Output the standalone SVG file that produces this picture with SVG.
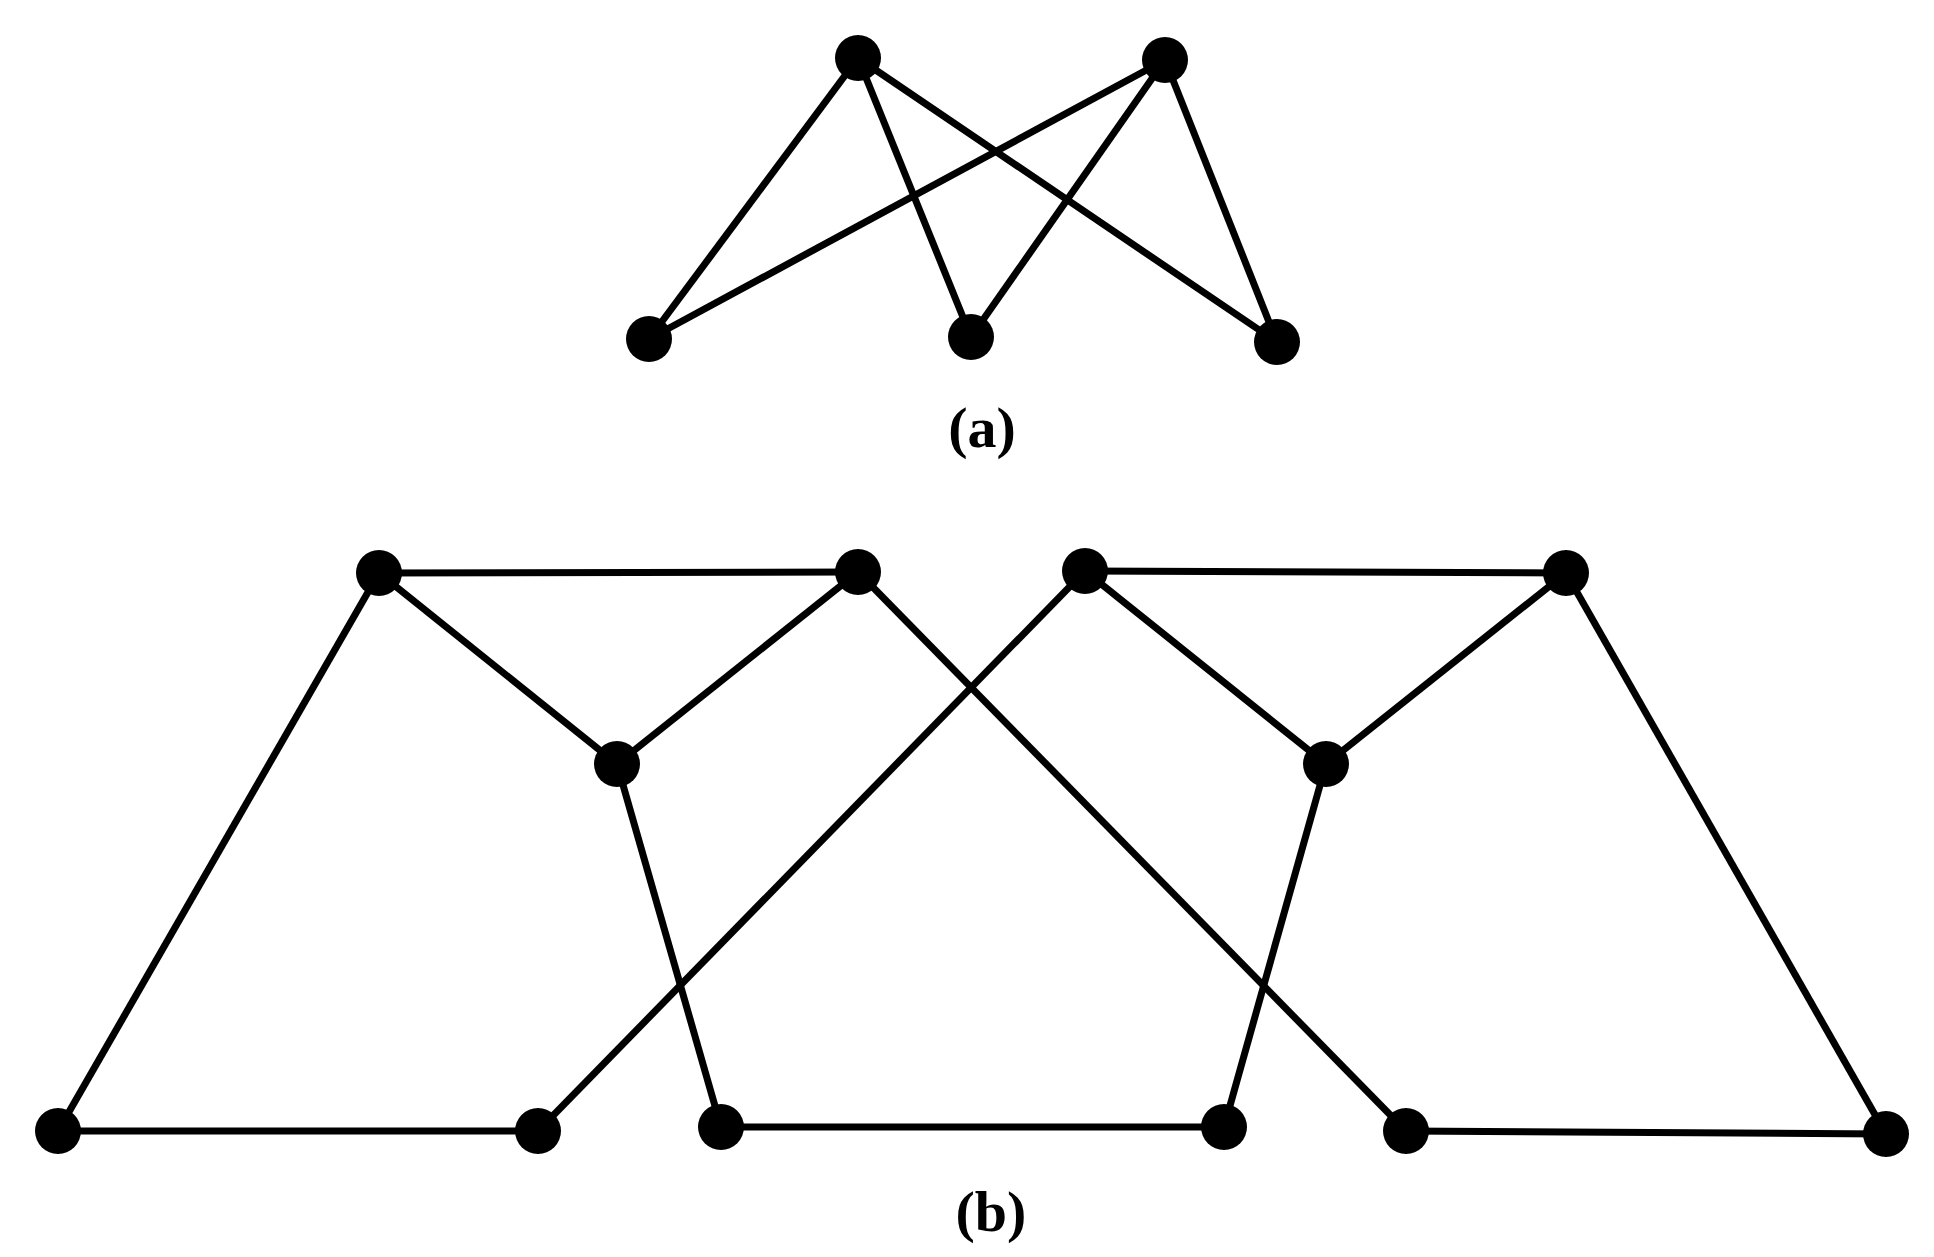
<svg xmlns="http://www.w3.org/2000/svg" width="1934" height="1257" viewBox="0 0 1934 1257">
<style>
.e{stroke:#000;stroke-width:7;fill:none}
.n{fill:#000}
.t{font-family:"Liberation Serif",serif;font-weight:bold;font-size:58px;text-anchor:middle}
</style>
<rect width="1934" height="1257" fill="#fff"/>
<g id="connectors" class="e">
<line x1="858" y1="58" x2="649" y2="339"/>
<line x1="858" y1="58" x2="971" y2="337"/>
<line x1="858" y1="58" x2="1277" y2="342"/>
<line x1="1165" y1="60" x2="649" y2="339"/>
<line x1="1165" y1="60" x2="971" y2="337"/>
<line x1="1165" y1="60" x2="1277" y2="342"/>
<line x1="379" y1="573" x2="858" y2="572"/>
<line x1="379" y1="573" x2="58" y2="1131"/>
<line x1="379" y1="573" x2="617" y2="764"/>
<line x1="858" y1="572" x2="617" y2="764"/>
<line x1="858" y1="572" x2="1406" y2="1131"/>
<line x1="1085" y1="571" x2="1566" y2="573"/>
<line x1="1085" y1="571" x2="538" y2="1131"/>
<line x1="1085" y1="571" x2="1326" y2="764"/>
<line x1="1566" y1="573" x2="1326" y2="764"/>
<line x1="1566" y1="573" x2="1886" y2="1134"/>
<line x1="617" y1="764" x2="721" y2="1127"/>
<line x1="1326" y1="764" x2="1224" y2="1127"/>
<line x1="58" y1="1131" x2="538" y2="1131"/>
<line x1="721" y1="1127" x2="1224" y2="1127"/>
<line x1="1406" y1="1131" x2="1886" y2="1134"/>
</g>
<g id="a-t1"><circle class="n" cx="858" cy="58" r="23"/></g>
<g id="a-t2"><circle class="n" cx="1165" cy="60" r="23"/></g>
<g id="a-b1"><circle class="n" cx="649" cy="339" r="23"/></g>
<g id="a-b2"><circle class="n" cx="971" cy="337" r="23"/></g>
<g id="a-b3"><circle class="n" cx="1277" cy="342" r="23"/></g>
<g id="b-t1"><circle class="n" cx="379" cy="573" r="23"/></g>
<g id="b-t2"><circle class="n" cx="858" cy="572" r="23"/></g>
<g id="b-t3"><circle class="n" cx="1085" cy="571" r="23"/></g>
<g id="b-t4"><circle class="n" cx="1566" cy="573" r="23"/></g>
<g id="b-m1"><circle class="n" cx="617" cy="764" r="23"/></g>
<g id="b-m2"><circle class="n" cx="1326" cy="764" r="23"/></g>
<g id="b-b1"><circle class="n" cx="58" cy="1131" r="23"/></g>
<g id="b-b2"><circle class="n" cx="538" cy="1131" r="23"/></g>
<g id="b-b3"><circle class="n" cx="721" cy="1127" r="23"/></g>
<g id="b-b4"><circle class="n" cx="1224" cy="1127" r="23"/></g>
<g id="b-b5"><circle class="n" cx="1406" cy="1131" r="23"/></g>
<g id="b-b6"><circle class="n" cx="1886" cy="1134" r="23"/></g>
<text class="t" x="982" y="447">(a)</text>
<text class="t" x="991" y="1231">(b)</text>
</svg>
